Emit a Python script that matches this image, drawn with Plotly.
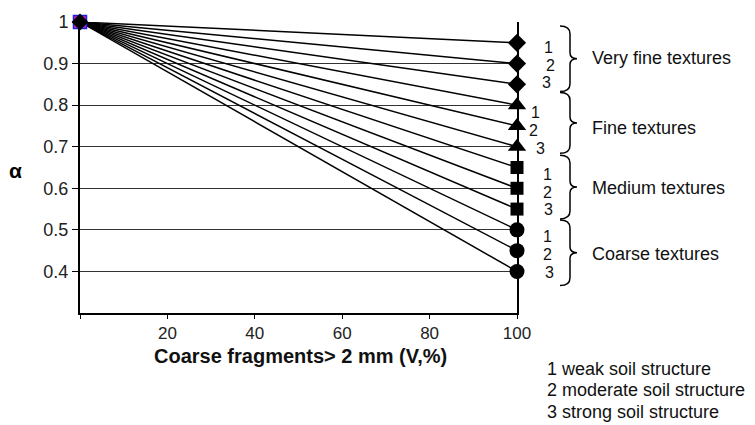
import plotly.graph_objects as go

# data
x_start = 0
x_end = 100
alpha_start = 1.0
alpha_end = [0.95, 0.90, 0.85, 0.80, 0.75, 0.70, 0.65, 0.60, 0.55, 0.50, 0.45, 0.40]
symbols = ["diamond"] * 3 + ["triangle-up"] * 3 + ["square"] * 3 + ["circle"] * 3
structure = ["1", "2", "3"] * 4
groups = ["Very fine textures", "Fine textures", "Medium textures", "Coarse textures"]
y_ticks = [0.4, 0.5, 0.6, 0.7, 0.8, 0.9, 1.0]
y_ticktext = ["0.4", "0.5", "0.6", "0.7", "0.8", "0.9", "1"]
x_ticks = [0, 20, 40, 60, 80, 100]
x_ticktext = ["", "20", "40", "60", "80", "100"]
legend_lines = ["1 weak soil structure", "2 moderate soil structure", "3 strong soil structure"]

FONT = "Liberation Sans, Arial, Helvetica, sans-serif"
Y0, Y1 = 0.3, 1.0
L, R, T, B = 80, 517, 16, 313  # plot area in pixels


def px(xx):
    return (xx - L) / (R - L)


def py(yy):
    return (B - yy) / (B - T)


fig = go.Figure()
for v in alpha_end:
    fig.add_trace(go.Scatter(x=[x_start, x_end], y=[alpha_start, v], mode="lines",
                             line=dict(color="black", width=1.5), showlegend=False,
                             hoverinfo="skip", cliponaxis=False))
sizes = {"diamond": 14, "triangle-up": 16, "square": 13, "circle": 15}
for v, s in zip(alpha_end, symbols):
    fig.add_trace(go.Scatter(x=[x_end], y=[v], mode="markers",
                             marker=dict(symbol=s, color="black", size=sizes[s]),
                             showlegend=False, cliponaxis=False))
# start point markers (overlapping)
fig.add_trace(go.Scatter(x=[x_start], y=[alpha_start], mode="markers",
                         marker=dict(symbol="square", color="#d020d0", size=13,
                                     line=dict(color="#2020e0", width=1.5)),
                         showlegend=False, cliponaxis=False))
fig.add_trace(go.Scatter(x=[x_start], y=[alpha_start], mode="markers",
                         marker=dict(symbol="diamond", color="black", size=13),
                         showlegend=False, cliponaxis=False))

TXT = dict(size=18, color="#111", family=FONT)
NUM = dict(size=16, color="#111", family=FONT)
annotations = []
num_x = [548, 550, 546, 535, 533, 540, 547, 547, 548, 547, 547, 549]
num_y = [42, 60, 78, 108, 127, 145, 172, 190, 207, 235, 253, 272]
for t, xx, yy in zip(structure, num_x, num_y):
    annotations.append(dict(x=px(xx), y=py(yy), xref="paper", yref="paper",
                            text=t, showarrow=False, font=NUM,
                            xanchor="center", yanchor="middle"))
group_y = [53, 124, 185, 253]
for g, yy in zip(groups, group_y):
    annotations.append(dict(x=px(590), y=py(yy), xref="paper", yref="paper",
                            text=g, showarrow=False, font=TXT,
                            xanchor="left", yanchor="middle"))
for i, t in enumerate(legend_lines):
    annotations.append(dict(x=px(545), y=py(370 + 22 * i), xref="paper", yref="paper",
                            text=t, showarrow=False, font=TXT,
                            xanchor="left", yanchor="middle"))
annotations.append(dict(x=px(15), y=py(168), xref="paper", yref="paper", text="<b>α</b>",
                        showarrow=False, font=dict(size=21, color="black", family=FONT),
                        xanchor="center", yanchor="middle"))
annotations.append(dict(x=px(300), y=py(357), xref="paper", yref="paper",
                        text="<b>Coarse fragments> 2 mm (V,%)</b>",
                        showarrow=False, font=dict(size=20, color="#111", family=FONT),
                        xanchor="center", yanchor="middle"))

# braces (pixel positions converted to paper)
shapes = []
braces = [(20, 87), (88, 150), (152, 217), (218, 285)]
for top, bot in braces:
    x0 = 564
    mid = (top + bot) / 2
    w = 6

    def P(xx, yy):
        return f"{px(xx):.5f},{py(yy):.5f}"
    path = (f"M {P(x0 - 4, top)} Q {P(x0 + w, top)} {P(x0 + w, top + 8)} "
            f"L {P(x0 + w, mid - 6)} Q {P(x0 + w, mid)} {P(x0 + w + 7, mid)} "
            f"Q {P(x0 + w, mid)} {P(x0 + w, mid + 6)} "
            f"L {P(x0 + w, bot - 8)} Q {P(x0 + w, bot)} {P(x0 - 4, bot)}")
    shapes.append(dict(type="path", path=path, xref="paper", yref="paper",
                       line=dict(color="black", width=1.5)))

fig.update_layout(
    width=755, height=425,
    margin=dict(l=L, r=755 - R, t=T, b=425 - B),
    paper_bgcolor="white", plot_bgcolor="white",
    font=dict(family=FONT, size=18, color="black"),
    annotations=annotations,
    shapes=shapes,
    xaxis=dict(range=[0, 100], tickvals=x_ticks, ticktext=x_ticktext, ticks="outside",
               ticklen=4, tickcolor="black", showgrid=False, zeroline=False,
               showline=True, linecolor="black", linewidth=2,
               tickfont=dict(size=17, family=FONT, color="#222")),
    yaxis=dict(range=[Y0, Y1], tickvals=y_ticks, ticktext=y_ticktext, ticks="outside",
               ticklen=6, tickcolor="black", showgrid=True, gridcolor="#333", gridwidth=1,
               zeroline=False, showline=True, linecolor="black", linewidth=2, mirror=True,
               tickfont=dict(size=18, family=FONT, color="#222")),
)

fig.write_html("out.html")
